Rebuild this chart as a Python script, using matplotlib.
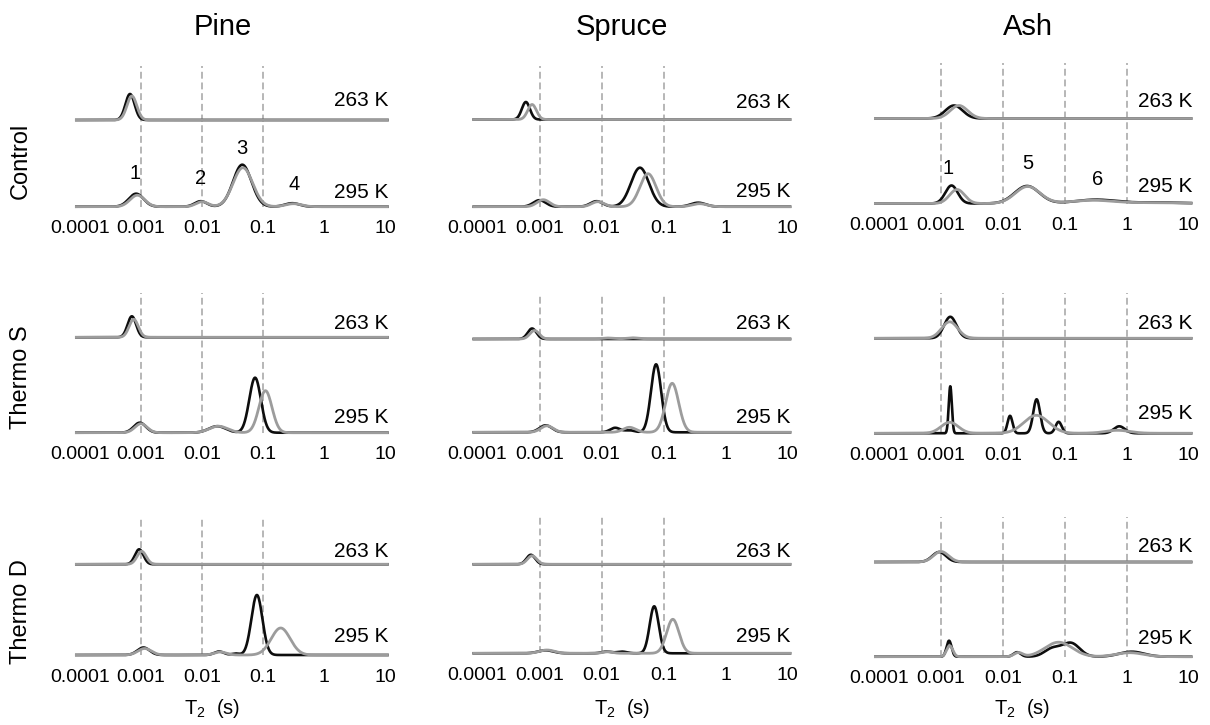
import numpy as np
import matplotlib
matplotlib.use('Agg')
import matplotlib.pyplot as plt
from matplotlib.ticker import NullLocator

plt.rcParams['font.family'] = ['Liberation Sans', 'DejaVu Sans']
plt.rcParams['mathtext.fontset'] = 'custom'
plt.rcParams['mathtext.rm'] = 'Liberation Sans'
plt.rcParams['mathtext.it'] = 'Liberation Sans:italic'

woods = ['Pine', 'Spruce', 'Ash']
treatments = ['Control', 'Thermo S', 'Thermo D']
temps = ['263 K', '295 K']
tick_vals = [1e-4, 1e-3, 1e-2, 1e-1, 1, 10]
tick_labels = ['0.0001', '0.001', '0.01', '0.1', '1', '10']

# T2 peaks: (log10 T2 [s], amplitude [a.u.], width [decades])
pine_ctrl_263_black = [(-3.18, 26, 0.075)]
pine_ctrl_263_gray = [(-3.15, 24, 0.08)]
pine_ctrl_295_black = [(-3.08, 13, 0.12), (-2.02, 5.5, 0.1), (-1.34, 42, 0.15), (-0.52, 3.5, 0.12)]
pine_ctrl_295_gray = [(-3.06, 11.5, 0.12), (-2.0, 5, 0.1), (-1.33, 39, 0.16), (-0.5, 3, 0.13)]

spruce_ctrl_263_black = [(-3.22, 17.5, 0.065)]
spruce_ctrl_263_gray = [(-3.12, 15, 0.07)]
spruce_ctrl_295_black = [(-3.0, 6.5, 0.1), (-2.08, 5.5, 0.1), (-1.38, 39, 0.145), (-0.44, 4, 0.12)]
spruce_ctrl_295_gray = [(-2.94, 7, 0.1), (-2.06, 5, 0.1), (-1.25, 33, 0.13), (-0.42, 3, 0.12)]

ash_ctrl_263_black = [(-2.79, 13, 0.14)]
ash_ctrl_263_gray = [(-2.71, 13, 0.14)]
ash_ctrl_295_black = [(-2.83, 18, 0.1), (-1.61, 17.5, 0.2), (-0.5, 3.8, 0.33), (0.5, 1.0, 0.4)]
ash_ctrl_295_gray = [(-2.74, 14, 0.12), (-1.6, 17, 0.2), (-0.55, 3.2, 0.35), (0.5, 0.8, 0.4)]

pine_ts_263_black = [(-3.15, 21, 0.07)]
pine_ts_263_gray = [(-3.12, 18, 0.075)]
pine_ts_295_black = [(-3.02, 10, 0.1), (-1.75, 6.5, 0.14), (-1.13, 55, 0.095)]
pine_ts_295_gray = [(-3.0, 9, 0.1), (-1.73, 6.5, 0.15), (-0.96, 42, 0.107)]

spruce_ts_263_black = [(-3.12, 10.5, 0.07)]
spruce_ts_263_gray = [(-3.08, 8.5, 0.075), (-1.9, 1, 0.1), (-1.5, 1.2, 0.1)]
spruce_ts_295_black = [(-2.9, 7, 0.1), (-1.78, 4.5, 0.08), (-1.55, 2, 0.08), (-1.12, 68, 0.082)]
spruce_ts_295_gray = [(-2.88, 6.5, 0.1), (-1.55, 5, 0.1), (-0.86, 49, 0.105)]

ash_ts_263_black = [(-2.85, 21.5, 0.1)]
ash_ts_263_gray = [(-2.86, 16.5, 0.13)]
ash_ts_295_black = [(-2.85, 47, 0.025), (-1.885, 17.5, 0.04), (-1.455, 34, 0.055),
                    (-1.1, 11.5, 0.05), (-0.12, 7, 0.09)]
ash_ts_295_gray = [(-2.86, 11, 0.14), (-1.46, 18, 0.2), (-0.15, 3, 0.2)]

pine_td_263_black = [(-3.03, 15, 0.07)]
pine_td_263_gray = [(-2.99, 13, 0.075)]
pine_td_295_black = [(-2.96, 7.5, 0.1), (-1.72, 3.5, 0.08), (-1.45, 1.5, 0.06), (-1.1, 60, 0.09)]
pine_td_295_gray = [(-2.94, 6.5, 0.11), (-1.7, 3, 0.1), (-0.71, 27, 0.155)]

spruce_td_263_black = [(-3.14, 9.5, 0.07)]
spruce_td_263_gray = [(-3.12, 8.5, 0.075)]
spruce_td_295_black = [(-2.9, 3, 0.12), (-1.92, 1.7, 0.08), (-1.67, 1.7, 0.08), (-1.15, 47, 0.073)]
spruce_td_295_gray = [(-2.88, 3.3, 0.12), (-1.9, 1.5, 0.08), (-0.85, 34, 0.1)]

ash_td_263_black = [(-3.03, 10, 0.11)]
ash_td_263_gray = [(-3.0, 10.5, 0.12)]
ash_td_295_black = [(-2.87, 16, 0.04), (-1.77, 4.5, 0.06), (-1.2, 8, 0.13), (-0.9, 13.5, 0.14), (0.08, 5, 0.2)]
ash_td_295_gray = [(-2.86, 11, 0.05), (-1.75, 4, 0.07), (-1.1, 14.5, 0.22), (0.05, 4, 0.22)]

peak_labels_pine = ['1', '2', '3', '4']
peak_labels_ash = ['1', '5', '6']

peaks = {
    (0, 0): [[pine_ctrl_263_black, pine_ctrl_263_gray], [pine_ctrl_295_black, pine_ctrl_295_gray]],
    (0, 1): [[spruce_ctrl_263_black, spruce_ctrl_263_gray], [spruce_ctrl_295_black, spruce_ctrl_295_gray]],
    (0, 2): [[ash_ctrl_263_black, ash_ctrl_263_gray], [ash_ctrl_295_black, ash_ctrl_295_gray]],
    (1, 0): [[pine_ts_263_black, pine_ts_263_gray], [pine_ts_295_black, pine_ts_295_gray]],
    (1, 1): [[spruce_ts_263_black, spruce_ts_263_gray], [spruce_ts_295_black, spruce_ts_295_gray]],
    (1, 2): [[ash_ts_263_black, ash_ts_263_gray], [ash_ts_295_black, ash_ts_295_gray]],
    (2, 0): [[pine_td_263_black, pine_td_263_gray], [pine_td_295_black, pine_td_295_gray]],
    (2, 1): [[spruce_td_263_black, spruce_td_263_gray], [spruce_td_295_black, spruce_td_295_gray]],
    (2, 2): [[ash_td_263_black, ash_td_263_gray], [ash_td_295_black, ash_td_295_gray]],
}

# layout, in pixels of the 1210x725 picture
W, H = 1210, 725
col_x3 = [141, 539.5, 941]      # pixel x of T2 = 0.001
col_dec = [61, 62, 61.9]        # pixels per decade
top_px = [[66, 66, 63], [293, 293, 293], [516.7, 516.7, 516.7]]
base263_px = [[120, 119.5, 118.5], [337.3, 339, 338.3], [564.3, 564.3, 562]]
base295_px = [[206.7, 206.7, 203.5], [432.7, 432.3, 433.3], [655, 653.3, 656.7]]
lab263_y = [[99, 100, 99.3], [321.7, 321.7, 321.7], [549.3, 549.3, 545]]
lab295_y = [[191, 189.5, 185], [415, 415, 411.7], [635, 635, 636.7]]
lab_right = [389, 790, 1192]

BLACK = '#0d0d0d'
GRAY = '#9c9c9c'
DASH = '#a3a3a3'

logt = np.linspace(-4.06, 1.04, 2000)
t = 10 ** logt


def curve(plist):
    y = np.zeros_like(logt)
    for c, h, s in plist:
        y += h * np.exp(-(logt - c) ** 2 / (2 * s ** 2))
    return y


fig = plt.figure(figsize=(12.1, 7.25), dpi=100)

for r in range(3):
    for c in range(3):
        x3, dec = col_x3[c], col_dec[c]
        xl = x3 + (-4.1 + 3) * dec
        xr = x3 + (1.1 + 3) * dec
        ytop = top_px[r][c] - 2
        base = base295_px[r][c]
        ybot = base + 4
        ax = fig.add_axes([xl / W, 1 - ybot / H, (xr - xl) / W, (ybot - ytop) / H])
        ax.set_xscale('log')
        ax.set_xlim(10 ** -4.1, 10 ** 1.1)
        ax.set_ylim(-(ybot - base), base - ytop)
        for s in ax.spines.values():
            s.set_visible(False)
        ax.set_yticks([])
        ax.set_xticks(tick_vals, tick_labels)
        ax.xaxis.set_minor_locator(NullLocator())
        ax.tick_params(axis='x', length=0, pad=7, labelsize=14)

        dash_x = [1e-3, 1e-2, 1e-1] + ([1] if c == 2 else [])
        ax.vlines(dash_x, 0, base - top_px[r][c], colors=DASH,
                  linestyles=(0, (4.5, 2.5)), lw=1.1, zorder=0)

        off263 = base - base263_px[r][c]
        for k, off in enumerate([off263, 0]):
            black, gray = peaks[(r, c)][k]
            ax.plot(t, off + curve(black), color=BLACK, lw=1.9, zorder=2)
            ax.plot(t, off + curve(gray), color=GRAY, lw=2.0, zorder=3)

        fig.text(lab_right[c] / W, 1 - (lab263_y[r][c] + 7.5) / H, temps[0],
                 ha='right', va='baseline', fontsize=15)
        fig.text(lab_right[c] / W, 1 - (lab295_y[r][c] + 7.5) / H, temps[1],
                 ha='right', va='baseline', fontsize=15)

# column titles
for c, (name, xc) in enumerate(zip(woods, [223, 622, 1028])):
    fig.text(xc / W, 1 - 35 / H, name, ha='center', va='baseline', fontsize=21)

# row labels
for name, yc in zip(treatments, [161, 377, 612]):
    fig.text(21 / W, 1 - yc / H, name, rotation=90, ha='center', va='center', fontsize=17)

# x labels
for xc in [212, 622, 1022]:
    fig.text(xc / W, 1 - 714 / H, r'T$_2$  (s)', ha='center', va='baseline', fontsize=14.5)

# peak numbers
for lab, (px, py) in zip(peak_labels_pine, [(135, 172), (201, 177), (242, 147), (294, 183)]):
    fig.text(px / W, 1 - (py + 7) / H, lab, ha='center', va='baseline', fontsize=14.5)
for lab, (px, py) in zip(peak_labels_ash, [(948, 167), (1028, 162), (1098, 178)]):
    fig.text(px / W, 1 - (py + 7) / H, lab, ha='center', va='baseline', fontsize=14.5)

fig.savefig('out.png', dpi=100)
